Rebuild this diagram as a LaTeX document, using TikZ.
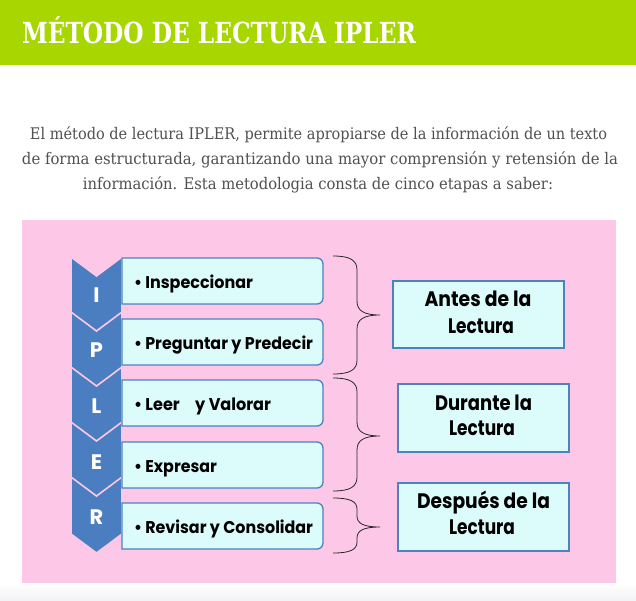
\documentclass[tikz,border=0pt]{standalone}
\usepackage{fontspec}
\usepackage{graphicx}
\newfontfamily\titlefont{DejaVu Serif}
\newfontfamily\bodyfont{DejaVu Serif}
\newfontfamily\gfont{Poppins}
\definecolor{hdrgreen}{RGB}{168,214,0}
\definecolor{bgpink}{RGB}{253,200,232}
\definecolor{chevblue}{RGB}{74,126,193}
\definecolor{boxblue}{RGB}{79,129,189}
\definecolor{boxfill}{RGB}{220,252,252}
\definecolor{bodygray}{RGB}{80,80,80}
\definecolor{footgray}{RGB}{243,243,245}
\newcommand{\fitw}[2]{\resizebox{#1}{\height}{#2}}
\tikzset{
  chevst/.style={fill=chevblue,draw=bgpink,line width=1.6pt,line join=miter},
  boxst/.style={fill=boxfill,draw=boxblue,line width=1.3pt},
  rbst/.style={fill=boxfill,draw=boxblue,line width=2.3pt,inner sep=0pt},
  bracest/.style={draw=black!85,line width=0.8pt},
  txt/.style={inner sep=0pt,outer sep=0pt},
  itemtxt/.style={txt,anchor=base west,font=\gfont\bfseries\fontsize{17}{17}\selectfont},
  lettxt/.style={txt,anchor=base,text=white,font=\gfont\bfseries\fontsize{21}{21}\selectfont},
  stagetxt/.style={txt,anchor=base,font=\gfont\bfseries\fontsize{21}{21}\selectfont},
  bodytxt/.style={txt,anchor=base,text=bodygray,font=\bodyfont\fontsize{16}{16}\selectfont}
}
\newcommand{\chevpath}[1]{(71,#1) -- (96.5,{#1+19}) -- (122,#1) -- (122,{#1+57}) -- (96.5,{#1+76}) -- (71,{#1+57}) -- cycle}
\newcommand{\itembox}[2]{\draw[boxst] (122,#1) -- (317,#1) .. controls (320.3,#1) and (323,{#1+2.7}) .. (323,{#1+6}) -- (323,{#2-6}) .. controls (323,{#2-2.7}) and (320.3,#2) .. (317,#2) -- (122,#2) -- cycle;}
\newcommand{\bracepath}[4]{(333,#1) .. controls (350,#1) and (357,{#1+#4*0.3}) .. (357,{#1+#4}) -- (357,{#2-#4}) .. controls (357,{#2-#4*0.3}) and (364,#2) .. (380,#2) .. controls (364,#2) and (357,{#2+#4*0.3}) .. (357,{#2+#4}) -- (357,{#3-#4}) .. controls (357,{#3-#4*0.3}) and (350,#3) .. (333,#3)}
\begin{document}
\begin{tikzpicture}[x=1pt,y=-1pt]
\useasboundingbox (0,0) rectangle (636,600);
\fill[white] (0,0) rectangle (636,600);
\shade[top color=white,bottom color=footgray] (0,583) rectangle (636,600);
% header
\fill[hdrgreen] (0,0) rectangle (636,65);
\node[txt,anchor=base west,text=white,font=\titlefont\bfseries\fontsize{29}{29}\selectfont] (title) at (22,43) {\fitw{394pt}{MÉTODO DE LECTURA IPLER}};
% intro text
\node[bodytxt] (l1) at (318.5,139) {\fitw{577pt}{El método de lectura IPLER, permite apropiarse de la información de un texto}};
\node[bodytxt] (l2) at (320,164) {\fitw{596pt}{de forma estructurada, garantizando una mayor comprensión y retensión de la}};
\node[bodytxt] (l3) at (318,189) {\fitw{470pt}{información. Esta metodologia consta de cinco etapas a saber:}};
% pink panel
\fill[bgpink] (22,220) rectangle (616,583);
% chevrons
\foreach \t in {257,312,367,422,477} { \filldraw[chevst] \chevpath{\t}; }
\node[lettxt] (cI) at (96.5,302) {I};
\node[lettxt] (cP) at (96.5,357) {P};
\node[lettxt] (cL) at (96.5,413) {L};
\node[lettxt] (cE) at (96.5,469) {E};
\node[lettxt] (cR) at (96.5,524) {R};
% item boxes
\itembox{258}{304}
\itembox{319}{365}
\itembox{380}{426}
\itembox{442}{488}
\itembox{503}{549}
\node[itemtxt] (i1) at (134,288) {\fitw{119pt}{• Inspeccionar}};
\node[itemtxt] (i2) at (134,349) {\fitw{179pt}{• Preguntar y Predecir}};
\node[itemtxt] (i3) at (134,410) {\fitw{137pt}{• Leer\hspace{0.75em} y Valorar}};
\node[itemtxt] (i4) at (134,472) {\fitw{83pt}{• Expresar}};
\node[itemtxt] (i5) at (134,533) {\fitw{179pt}{• Revisar y Consolidar}};
% braces
\draw[bracest] \bracepath{256}{315}{374}{14};
\draw[bracest] \bracepath{378}{436}{491}{14};
\draw[bracest] \bracepath{498}{527}{553}{11};
% stage boxes
\node[rbst,minimum width=171pt,minimum height=67pt] (antes) at (478.5,314.5) {};
\node[rbst,minimum width=171pt,minimum height=68pt] (durante) at (483.5,418) {};
\node[rbst,minimum width=171pt,minimum height=68pt] (despues) at (483.5,517) {};
\node[stagetxt] (a1) at (478,306) {\fitw{107pt}{Antes de la}};
\node[stagetxt] (a2) at (481,333) {\fitw{66pt}{Lectura}};
\node[stagetxt] (d1) at (483.5,410) {\fitw{97pt}{Durante la}};
\node[stagetxt] (d2) at (482,435) {\fitw{66pt}{Lectura}};
\node[stagetxt] (p1) at (483.5,508) {\fitw{133pt}{Después de la}};
\node[stagetxt] (p2) at (482,534) {\fitw{66pt}{Lectura}};
\end{tikzpicture}
\end{document}
